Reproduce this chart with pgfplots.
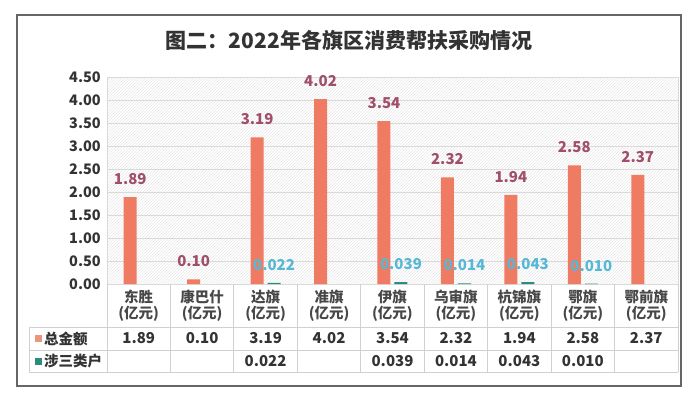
\documentclass[border=0pt]{standalone}
\usepackage{fontspec}
\setmainfont{Noto Sans CJK SC}
\usepackage{pgfplots}
\pgfplotsset{compat=1.18}
\usetikzlibrary{patterns}
\definecolor{barO}{HTML}{EE7B62}
\definecolor{barT}{HTML}{2E8B80}
\definecolor{labO}{HTML}{A04F68}
\definecolor{labT}{HTML}{56B8D5}
\definecolor{sqO}{HTML}{E9957F}
\definecolor{gridc}{HTML}{DADADA}
\definecolor{txt}{HTML}{333333}
\definecolor{tline}{HTML}{D0D0D0}
\begin{document}
\begin{tikzpicture}[x=1pt,y=1pt]
\useasboundingbox (0,0) rectangle (693,-395);
\draw[black!60, line width=1.3pt] (17,-15) rectangle (681,-386);
\node[font=\bfseries\fontsize{21}{24}\selectfont, text=txt] at (349,-40) {图二：2022年各旗区消费帮扶采购情况};
\begin{axis}[
  at={(107pt,-284pt)}, anchor=south west, scale only axis,
  width=571pt, height=207pt,
  xmin=-0.5, xmax=8.5, ymin=0, ymax=4.5,
  ytick={0,0.5,1,1.5,2,2.5,3,3.5,4,4.5},
  yticklabel style={font=\bfseries\fontsize{14.5}{16}\selectfont, text=txt, inner sep=0pt, xshift=-6pt,
    /pgf/number format/fixed, /pgf/number format/fixed zerofill, /pgf/number format/precision=2, /pgf/number format/assume math mode=true},
  xtick={0,1,2,3,4,5,6,7,8},
  xticklabels={{东胜\\(亿元)},{康巴什\\(亿元)},{达旗\\(亿元)},{准旗\\(亿元)},{伊旗\\(亿元)},{乌审旗\\(亿元)},{杭锦旗\\(亿元)},{鄂旗\\(亿元)},{鄂前旗\\(亿元)}},
  xticklabel style={align=center, font=\bfseries\fontsize{14.5}{15.5}\selectfont, text=txt!90, inner sep=0pt, yshift=-6pt},
  major tick length=0pt,
  ymajorgrids, grid style={gridc, line width=1pt},
  axis line style={draw=gridc, line width=0.8pt},
  axis background/.style={pattern=north east lines, pattern color=black!9},
  ybar, bar width=13pt,
  clip=false,
]
\addplot[fill=barO, draw=none, bar shift=-8.5pt,
  nodes near coords, point meta=y,
  nodes near coords style={font=\bfseries\fontsize{15}{16}\selectfont, text=labO, inner sep=0pt, anchor=south, yshift=12pt,
    /pgf/number format/fixed, /pgf/number format/fixed zerofill, /pgf/number format/precision=2, /pgf/number format/assume math mode=true}]
  coordinates {(0,1.89) (1,0.10) (2,3.19) (3,4.02) (4,3.54) (5,2.32) (6,1.94) (7,2.58) (8,2.37)};
\addplot[fill=barT, draw=none, bar shift=8.5pt,
  nodes near coords, point meta=y,
  nodes near coords style={font=\bfseries\fontsize{15}{16}\selectfont, text=labT, inner sep=0pt, anchor=south, yshift=12pt,
    /pgf/number format/fixed, /pgf/number format/fixed zerofill, /pgf/number format/precision=3, /pgf/number format/assume math mode=true}]
  coordinates {(2,0.022) (4,0.039) (5,0.014) (6,0.043) (7,0.010)};
\end{axis}
% data table below the axis
\def\cw{63.444}
\foreach \k in {0,...,9} \draw[tline, line width=0.8pt] ({107+\k*\cw},-284) -- ({107+\k*\cw},-372);
\draw[tline, line width=0.8pt] (29,-327) -- (678,-327) (29,-350) -- (678,-350) (29,-372) -- (678,-372) (29,-327) -- (29,-372);
\fill[sqO] (35,-335) rectangle (42,-342);
\fill[barT] (35,-357.5) rectangle (42,-364.5);
\node[anchor=west, font=\bfseries\fontsize{14.5}{16}\selectfont, text=txt, inner sep=0pt] at (44,-338.5) {总金额};
\node[anchor=west, font=\bfseries\fontsize{14.5}{16}\selectfont, text=txt, inner sep=0pt] at (44,-361) {涉三类户};
\foreach \v [count=\i from 0] in {1.89,0.10,3.19,4.02,3.54,2.32,1.94,2.58,2.37}
  \node[font=\bfseries\fontsize{15}{16}\selectfont, text=txt] at ({107+(\i+0.5)*\cw},-338.5) {\v};
\foreach \i/\v in {2/0.022,4/0.039,5/0.014,6/0.043,7/0.010}
  \node[font=\bfseries\fontsize{15}{16}\selectfont, text=txt] at ({107+(\i+0.5)*\cw},-361) {\v};
\end{tikzpicture}
\end{document}
